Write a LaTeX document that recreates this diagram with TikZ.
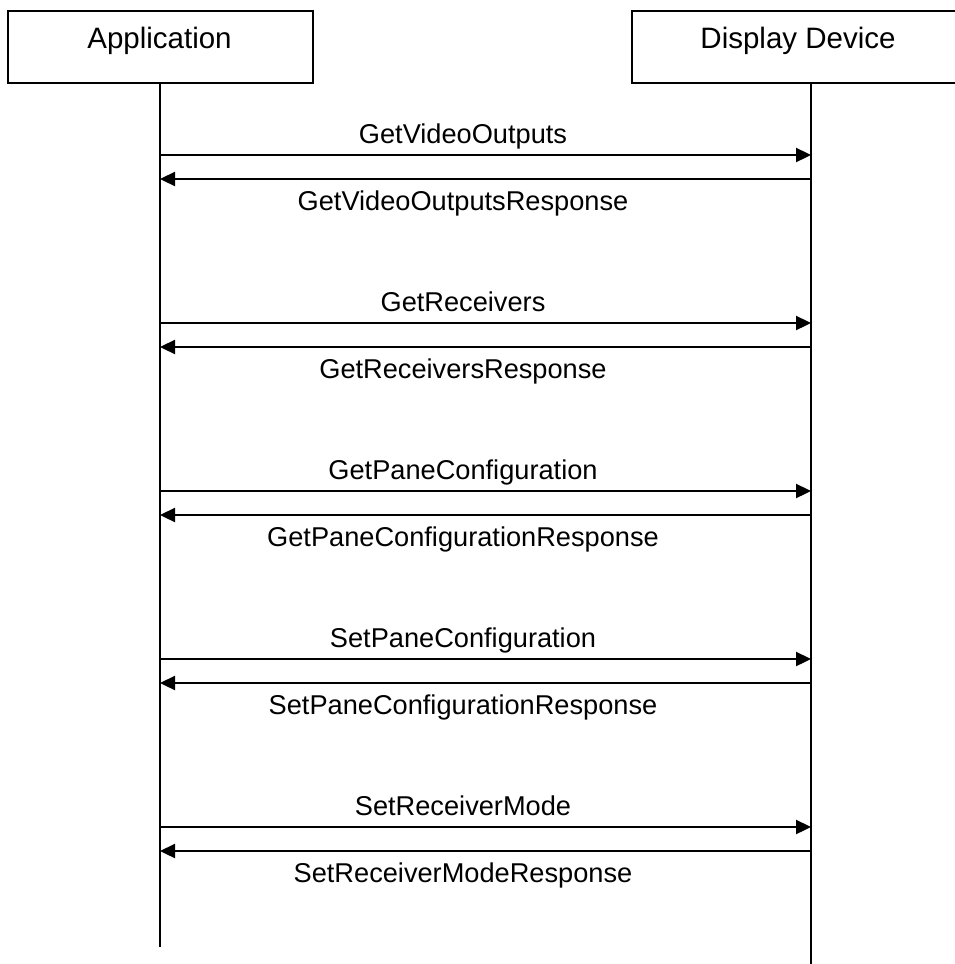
\documentclass[tikz,border=0pt]{standalone}
\usepackage{fontspec}
\setmainfont{Liberation Sans}
\usetikzlibrary{arrows.meta}
\begin{document}
\begin{tikzpicture}[x=1pt,y=-1pt,
  lw/.style={line width=2.3pt},
  msg/.style={lw,-{Triangle[length=15pt,width=14pt]}},
  lbl/.style={font=\fontsize{27.2}{32}\selectfont,inner sep=0pt,anchor=base},
  hdr/.style={font=\fontsize{29.5}{34}\selectfont,inner sep=0pt,anchor=base}]
\useasboundingbox (0,0) rectangle (955,964);
\clip (0,0) rectangle (955,964);
% actor boxes
\node[lw,draw,minimum width=305pt,minimum height=72pt,inner sep=0pt] (app) at (160.5,47) {};
\node[lw,draw,minimum width=358pt,minimum height=72pt,inner sep=0pt] (dev) at (811,47) {};
\node[hdr] (appt) at (159.5,48) {Application};
\node[hdr] (devt) at (798,48) {Display Device};
% lifelines
\coordinate (append) at (160,947);
\coordinate (devend) at (811,964);
\draw[line width=2pt] (app.south -| append) -- (append);
\draw[line width=2pt] (dev.south -| devend) -- (devend);
% messages
\foreach \i/\y/\req/\resp in {
  1/155/GetVideoOutputs/GetVideoOutputsResponse,
  2/323/GetReceivers/GetReceiversResponse,
  3/491/GetPaneConfiguration/GetPaneConfigurationResponse,
  4/659/SetPaneConfiguration/SetPaneConfigurationResponse,
  5/827/SetReceiverMode/SetReceiverModeResponse}{
  \coordinate (L\i) at (160,\y);
  \coordinate (R\i) at (811,\y);
  \coordinate (L\i r) at (160,\y+24);
  \coordinate (R\i r) at (811,\y+24);
  \draw[msg] (L\i) -- (R\i);
  \draw[msg] (R\i r) -- (L\i r);
  \node[lbl] (q\i) at (463,\y-12) {\req};
  \node[lbl] (p\i) at (463,\y+55) {\resp};
}
\end{tikzpicture}
\end{document}
